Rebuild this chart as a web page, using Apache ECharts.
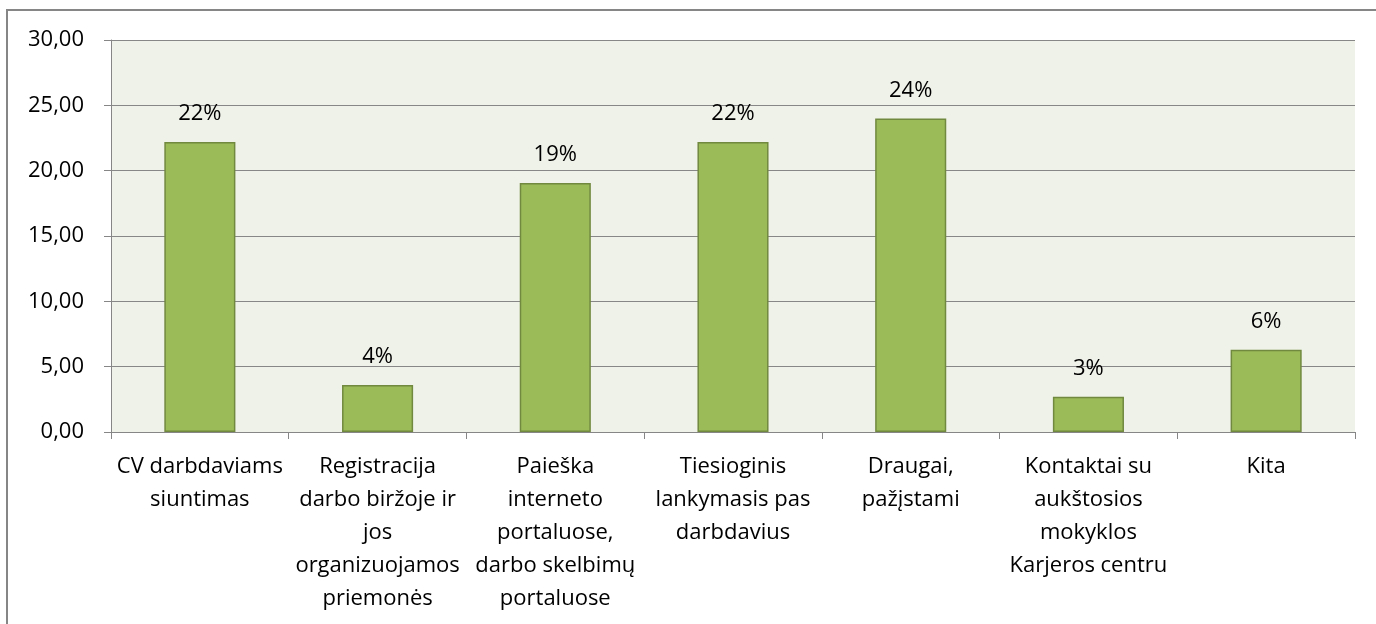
<!DOCTYPE html>
<html>
<head>
<meta charset="utf-8">
<style>
	html, body { margin: 0; padding: 0; background: #fff; }
	#chart { width: 1376px; height: 624px; }
</style>
<script src="https://cdn.jsdelivr.net/npm/echarts@6/dist/echarts.min.js"></script>
</head>
<body>
<div id="chart"></div>
<script>
	// kategorijos (su eilučių laužymais kaip originale)
	var categories = [
		'CV darbdaviams\nsiuntimas',
		'Registracija\ndarbo biržoje ir\njos\norganizuojamos\npriemonės',
		'Paieška\ninterneto\nportaluose,\ndarbo skelbimų\nportaluose',
		'Tiesioginis\nlankymasis pas\ndarbdavius',
		'Draugai,\npažįstami',
		'Kontaktai su\naukštosios\nmokyklos\nKarjeros centru',
		'Kita'
	];
	var values = [22.2, 3.6, 19.05, 22.2, 24.0, 2.7, 6.3];
	var yTicks = { min: 0, max: 30, interval: 5 };

	var fontName = 'Open Sans';
	var chart = echarts.init(document.getElementById('chart'));
	var option = {
		backgroundColor: '#fff',
		animation: false,
		textStyle: { fontFamily: fontName },
		graphic: [{
			type: 'rect',
			silent: true,
			shape: { x: 7, y: 10, width: 1420, height: 700 },
			style: { fill: 'none', stroke: '#868686', lineWidth: 2 }
		}],
		grid: {
			left: 111,
			right: 21,
			top: 40,
			bottom: 192,
			show: true,
			backgroundColor: '#EFF2E9',
			borderWidth: 0
		},
		xAxis: {
			type: 'category',
			data: categories,
			axisLine: { lineStyle: { color: '#868686', width: 1 } },
			axisTick: { show: true, length: 7, lineStyle: { color: '#868686' } },
			axisLabel: {
				interval: 0,
				color: '#000',
				fontSize: 22,
				lineHeight: 33,
				margin: 18,
				fontFamily: fontName
			}
		},
		yAxis: {
			type: 'value',
			min: yTicks.min,
			max: yTicks.max,
			interval: yTicks.interval,
			axisLine: { show: true, lineStyle: { color: '#868686', width: 1 } },
			axisTick: { show: true, length: 7, lineStyle: { color: '#868686' } },
			axisLabel: {
				color: '#000',
				fontSize: 22,
				margin: 27,
				fontFamily: fontName,
				formatter: function (v) { return v.toFixed(2).replace('.', ','); }
			},
			splitLine: { show: true, lineStyle: { color: '#878787', width: 1 } }
		},
		series: [{
			type: 'bar',
			data: values,
			barWidth: '40%',
			itemStyle: {
				color: '#9BBB59',
				borderColor: '#71893F',
				borderWidth: 1.5
			},
			label: {
				show: true,
				position: 'top',
				distance: 17,
				color: '#000',
				fontSize: 22,
				fontFamily: fontName,
				formatter: function (p) { return Math.round(p.value) + '%'; }
			}
		}]
	};
	chart.setOption(option);
</script>
</body>
</html>
